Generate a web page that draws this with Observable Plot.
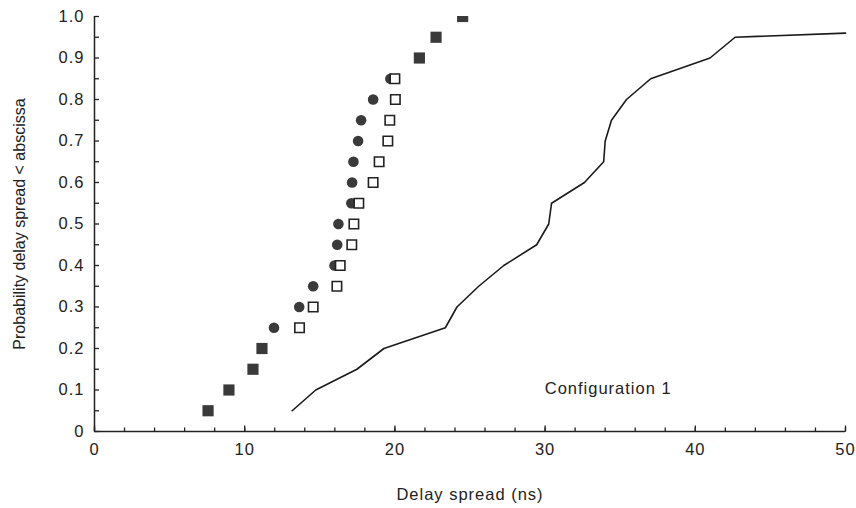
<!DOCTYPE html>
<html>
<head>
<meta charset="utf-8">
<script src="https://cdn.jsdelivr.net/npm/d3@7"></script>
<script src="https://cdn.jsdelivr.net/npm/@observablehq/plot@0.6"></script>
<style>
  html, body { margin: 0; padding: 0; background: #fff; }
</style>
</head>
<body>
<div id="chart"></div>
<script>
// Cumulative probability levels
const probSplit = [0.25, 0.30, 0.35, 0.40, 0.45, 0.50, 0.55, 0.60, 0.65, 0.70, 0.75, 0.80, 0.85];
// Filled circles (series A), delay spread in ns
const circleX = [11.95, 13.63, 14.56, 15.98, 16.16, 16.24, 17.1, 17.15, 17.24, 17.55, 17.75, 18.55, 19.7];
// Open squares (series B), delay spread in ns
const openSquareX = [13.65, 14.56, 16.14, 16.36, 17.13, 17.27, 17.6, 18.55, 18.95, 19.53, 19.66, 20.03, 20.0];
// Filled squares (coinciding A & B)
const probBoth = [0.05, 0.10, 0.15, 0.20, 0.90, 0.95, 1.00];
const bothX = [7.56, 8.95, 10.55, 11.15, 21.63, 22.74, 24.51];
// Configuration 1 curve
const lineX = [13.16, 14.73, 17.47, 19.27, 23.36, 24.13, 25.58, 27.25, 29.44, 30.24, 30.43, 32.62, 33.9, 34.0, 34.42, 35.42, 37.03, 40.98, 42.65, 50];
const lineY = [0.05, 0.10, 0.15, 0.20, 0.25, 0.30, 0.35, 0.40, 0.45, 0.50, 0.55, 0.60, 0.65, 0.70, 0.75, 0.80, 0.85, 0.90, 0.95, 0.96];
// Ticks
const xMajorTicks = [0, 10, 20, 30, 40, 50];
const xMinorTicks = d3.range(0, 51, 2);
const yMajorTicks = [0, 0.1, 0.2, 0.3, 0.4, 0.5, 0.6, 0.7, 0.8, 0.9, 1.0];
const yMinorTicks = d3.range(0, 21).map(i => i / 20);
const annotation = [{label: "Configuration 1", x: 34.2, y: 0.104}];

const circles = probSplit.map((p, i) => ({x: circleX[i], y: p}));
const openSquares = probSplit.map((p, i) => ({x: openSquareX[i], y: p}));
const both = probBoth.map((p, i) => ({x: bothX[i], y: p}));
const curve = lineX.map((x, i) => ({x, y: lineY[i]}));

// inward tick symbols (length = r)
const tickUp = {draw(ctx, size) { const l = Math.sqrt(size / Math.PI); ctx.moveTo(0, 0); ctx.lineTo(0, -l); }};
const tickRight = {draw(ctx, size) { const l = Math.sqrt(size / Math.PI); ctx.moveTo(0, 0); ctx.lineTo(l, 0); }};

const ink = "#222";
const chart = Plot.plot({
  width: 856,
  height: 508,
  marginLeft: 94,
  marginRight: 11,
  marginTop: 16,
  marginBottom: 77,
  x: {domain: [0, 50]},
  y: {domain: [0, 1]},
  style: {fontFamily: "'Liberation Sans', Arial, sans-serif", fontSize: "16.5px", color: ink, letterSpacing: "1px", background: "#fff"},
  marks: [
    Plot.dot(xMinorTicks, {x: d => d, y: 0, symbol: tickUp, r: 4, fill: "none", stroke: ink, strokeWidth: 1.3}),
    Plot.dot(xMajorTicks, {x: d => d, y: 0, symbol: tickUp, r: 6, fill: "none", stroke: ink, strokeWidth: 1.3}),
    Plot.dot(yMinorTicks, {x: 0, y: d => d, symbol: tickRight, r: 4.5, fill: "none", stroke: ink, strokeWidth: 1.3}),
    Plot.axisX(xMajorTicks, {tickSize: 0, tickPadding: 12, tickFormat: d => String(d), label: "Delay spread (ns)", labelAnchor: "center", labelOffset: 68, labelArrow: "none", fill: ink}),
    Plot.axisY(yMajorTicks, {tickSize: 0, tickPadding: 10, tickFormat: d => d === 0 ? "0" : d.toFixed(1), label: "Probability delay spread < abscissa", labelAnchor: "center", labelOffset: 81, labelArrow: "none", fill: ink}),
    Plot.ruleY([0], {stroke: ink, strokeWidth: 1.5}),
    Plot.ruleX([0], {stroke: ink, strokeWidth: 1.5}),
    Plot.line(curve, {x: "x", y: "y", stroke: "#1a1a1a", strokeWidth: 1.6}),
    Plot.dot(circles, {x: "x", y: "y", r: 5.3, fill: "#3a3a3a", stroke: "none"}),
    Plot.dot(openSquares, {x: "x", y: "y", symbol: "square", r: 5.3, fill: "#fff", stroke: ink, strokeWidth: 1.6}),
    Plot.dot(both, {x: "x", y: "y", symbol: "square", r: 6.3, fill: "#3a3a3a", stroke: "none", clip: true}),
    Plot.text(annotation, {x: "x", y: "y", text: "label", textAnchor: "middle", fill: ink})
  ]
});
document.getElementById("chart").appendChild(chart);
// strip any scale arrows, and keep the rotated y title unspaced
d3.select(chart).selectAll('g[aria-label$="label"] text, g[aria-label$="label"] tspan').each(function() {
  if (this.childNodes.length === 1 && this.firstChild.nodeType === 3) {
    this.textContent = this.textContent.replace(/\s*[→←↑↓]\s*/g, "").trim();
  }
});
d3.select(chart).selectAll('g[aria-label="y-axis label"] text')
  .style("letter-spacing", "0px").style("font-size", "16px");
</script>
</body>
</html>
